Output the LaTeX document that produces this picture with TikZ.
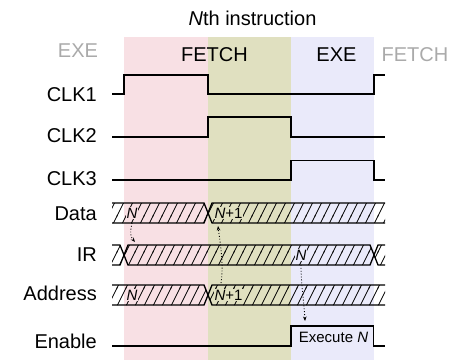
\documentclass[tikz,border=0pt]{standalone}
\usepackage{fontspec}
\setmainfont{Liberation Sans}
\usetikzlibrary{arrows.meta,patterns.meta}

\definecolor{fetchA}{RGB}{248,224,228}
\definecolor{fetchB}{RGB}{224,224,192}
\definecolor{exeC}{RGB}{234,234,250}
\definecolor{dimtxt}{RGB}{170,170,170}

\tikzdeclarepattern{
  name=hatch,
  type=uncolored,
  bounding box={(-0.5pt,-1pt) and (9.5pt,19pt)},
  tile size={(9pt,18pt)},
  code={\draw[line width=0.7pt] (-0.5pt,-1pt) -- (9.5pt,19pt);}
}

\begin{document}
\begin{tikzpicture}[x=1pt, y=-1pt,
  wave/.style={line width=1.4pt},
  busfill/.style={pattern=hatch},
  busline/.style={line width=1.3pt},
  signame/.style={font=\fontsize{20}{24}\selectfont, inner sep=0pt, anchor=base east},
  phaselbl/.style={font=\fontsize{20}{24}\selectfont, inner sep=0pt, anchor=base},
  buslbl/.style={font=\fontsize{15}{18}\selectfont, inner sep=0.6pt, fill=#1},
  flow/.style={-{Stealth[length=4.5pt,width=3.5pt]}, dotted, line width=0.9pt},
]
\useasboundingbox (0,0) rectangle (454,360);

% --- Phase backgrounds ---
\fill[fetchA] (124,37) rectangle (208,360);
\fill[fetchB] (208,37) rectangle (291,360);
\fill[exeC] (291,37) rectangle (374,360);

% --- Phase labels ---
\node[phaselbl] (title) at (252.5,25) {\textit{N}th instruction};
\node[phaselbl, text=dimtxt] (exePrev) at (78,57) {EXE};
\node[phaselbl] (fetch) at (214.5,61.5) {FETCH};
\node[phaselbl] (exe) at (336.5,61.5) {EXE};
\node[phaselbl, text=dimtxt] (fetchNext) at (415,61.5) {FETCH};

% --- Signal names ---
\node[signame] (clk1) at (97,101) {CLK1};
\node[signame] (clk2) at (97,142.5) {CLK2};
\node[signame] (clk3) at (97,185) {CLK3};
\node[signame] (data) at (97,220) {Data};
\node[signame] (ir) at (97,261) {IR};
\node[signame] (addr) at (97,300) {Address};
\node[signame] (enable) at (97,348) {Enable};

% --- Clocks and enable ---
\draw[wave] (112,94) -| (124,75) -| (208,94) -| (374,75) -- (385,75);
\draw[wave] (112,137) -| (208,117) -| (291,137) -- (385,137);
\draw[wave] (112,180) -| (291,160.5) -| (374,180) -- (385,180);
\draw[wave] (112,346) -| (291,326) -| (373.5,346) -- (385,346);

% --- Data bus ---
\path[busfill] (112,203) -- (204,203) -- (208,213) -- (204,223) -- (112,223) -- cycle;
\path[busfill] (385,203) -- (212,203) -- (208,213) -- (212,223) -- (385,223) -- cycle;
\draw[busline] (112,203) -- (204,203) -- (212,223) -- (385,223);
\draw[busline] (112,223) -- (204,223) -- (212,203) -- (385,203);

% --- IR bus ---
\path[busfill] (112,245) -- (120,245) -- (124,255) -- (120,265) -- (112,265) -- cycle;
\path[busfill] (128,245) -- (370,245) -- (374,255) -- (370,265) -- (128,265) -- (124,255) -- cycle;
\path[busfill] (385,245) -- (378,245) -- (374,255) -- (378,265) -- (385,265) -- cycle;
\draw[busline] (112,245) -- (120,245) -- (128,265) -- (370,265) -- (378,245) -- (385,245);
\draw[busline] (112,265) -- (120,265) -- (128,245) -- (370,245) -- (378,265) -- (385,265);

% --- Address bus ---
\path[busfill] (112,285) -- (204,285) -- (208,295) -- (204,305) -- (112,305) -- cycle;
\path[busfill] (385,285) -- (212,285) -- (208,295) -- (212,305) -- (385,305) -- cycle;
\draw[busline] (112,285) -- (204,285) -- (212,305) -- (385,305);
\draw[busline] (112,305) -- (204,305) -- (212,285) -- (385,285);

% --- Bus values ---
\node[buslbl=fetchA] (dN) at (132,213) {\textit{N}};
\node[buslbl=fetchB] (dN1) at (228.5,213) {\textit{N}+1};
\node[buslbl=exeC] (irN) at (301,255) {\textit{N}};
\node[buslbl=fetchA] (aN) at (132,295) {\textit{N}};
\node[buslbl=fetchB] (aN1) at (228.5,295) {\textit{N}+1};
\node[font=\fontsize{15}{18}\selectfont, inner sep=0pt, anchor=base] (exeN) at (333.5,342) {Execute \textit{N}};

% --- Transfers ---
\coordinate (irTop) at (135,242);
\coordinate (aUp) at (221,283);
\coordinate (dLow) at (218,226);
\coordinate (enTop) at (305,321);
\draw[flow] ([yshift=-4pt]dN.south) .. controls +(-2,10) and +(-5,-6) .. (irTop);
\draw[flow] (aUp) .. controls +(3,-18) and +(2,16) .. (dLow);
\draw[flow] ([yshift=-4pt]irN.south) .. controls +(0,20) and +(-1,-20) .. (enTop);
\end{tikzpicture}
\end{document}
